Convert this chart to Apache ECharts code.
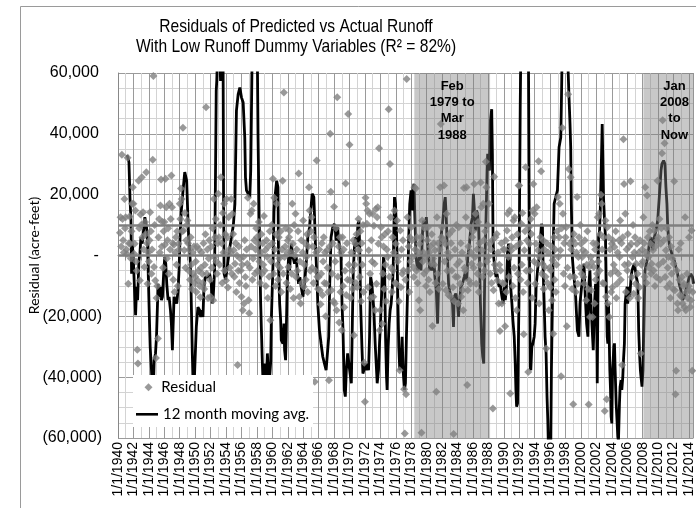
<!DOCTYPE html>
<html><head><meta charset="utf-8">
<script src="https://cdn.jsdelivr.net/npm/echarts@6/dist/echarts.min.js"></script>
<style>html,body{margin:0;padding:0;background:#fff}#c{width:696px;height:508px}</style>
</head><body><div id="c"></div>
<script>
// ---------------- DATA ----------------
const titleLines = ['Residuals of Predicted vs Actual Runoff', 'With Low Runoff Dummy Variables (R\u00B2 = 82%)'];
const yAxisName = 'Residual (acre-feet)';
const xLabelPrefix = '1/1/';
const seriesNames = ['Residual', '12 month moving avg.'];
// monthly residuals (thousand acre-feet), first month = April 1940
const residualStartYear = 1940, residualStartMonth = 4;
const res1940s = [
 7.5,12.6,3,33.1,12,5,1,18.6,9,
 12.6,2,0.5,32.1,-9.3,4,12.8,3.9,-1,8,17,22.4,
 17,0.6,3.9,14.8,-2,-5,-31,-35.5,24.6,9,-8.2,13.5,
 10,25.7,6,14.2,2,-3.8,11,7,27.4,4,-9.3,1,
 -2,5,14.2,8,-6,2,31.5,59,-3.8,10,-8.2,-33.7,
 -14,-10,-27.3,6,12,1,16.4,25,3,11,-4,8,
 11,3.5,25.2,15.9,-1,5,9,-6,17,2,12,26.3,
 15.9,4,-8,3.5,-12,1,6,-3,8,-10,3.9,2,
 17,12,22,18.6,8,42,8.2,1.7,14,-4,5,10,
 11.5,4,-5,2,-8,6,-3,-11,1,-6,3,-9];
const res1950s = [
 -7,-2,-12,3,-8.2,-5,2,-10,-13.7,-4,1,-6,
 -9,4,-11,-3,7,48.7,-6,2,-14,-1,5,-8,
 -13.6,3,-4,9,-14.7,18.6,-0.5,6,12,-2,-6,4,
 20.3,6,-3,10,25.7,4,-9,14,1,17,-5,7,
 -8.2,18.6,6,-10.5,12.6,2,-4,1,18.6,-6,13.7,7.1,
 1.7,-7,-2.7,4,-12,0,-36,-5,3,-9,-1,-4.9,
 -13.6,-3,-18,-0.5,-15.8,5,-7.1,-10,2,-2.7,19,-14.7,
 -19,-4,13.7,3,14.8,-8,-1,17,5,-6,2,9,
 6,-5,3.9,11,-2,-9,1,7,-6,4,-3,13,
 -4.9,1.7,-10,5,-0.5,-14,3,-7,8,-21.3,-2,10];
const res1960s = [
 4,25.2,-6,19,2,-10,7,17,-3,-8,6,-1,
 -4,8,-12,2,24.6,-6,53.6,-0.5,3,9,-9,1,
 4.9,-3.8,6,8.2,-11,1,-6,17,3.9,-14,10,0,
 13.7,-7.1,2,-5,8,27,-13.6,-2,-15.8,5,-9,1,
 11.5,-10.3,-3,4,-8,-0.5,7,-12,3,22.4,14.8,-5,
 8,12.6,-4,3,-9,6,-41.5,-4.9,1,31.2,-7,-11,
 -7.1,2,-11.4,-16,-6,4,-13,-2,6,-9,1,-20,
 -9.3,1.7,-4,-12,-41,3,40,21,-11.4,-6,4,-15,
 16,-15.8,-2,9,-18,52,-7,3,-22,6,-12,1,
 -24.6,6,-10,2,-17,-5,23.7,-13,4,-8,46.5,-3];
const res1970s = [
 36.4,-8.2,-14,1,-5,-11,5,-26.2,-3,3.9,-9,7,
 -10.4,2,12,1.7,-7.1,8,-15,4,-3,10,-12,-35.3,
 -48.1,19,17,10.4,14.8,-10.4,1.7,13.7,-6,-14,5,-2,
 13.7,-13.6,9.8,-2.7,-18,15.3,-9.3,12.6,15.9,3.9,35.3,-24.6,
 -18,9.3,6,-22.4,-6,3,-11,7,-3,-15,2,-0.5,
 8,48.1,-7,30.1,12.6,-4,-12,6,-4.9,1,14.8,-9,
 3.9,-9.3,11.5,-2,-0.5,-15,-37.7,8.2,-10.4,2,-6,5,
 -4.9,-44,-58.5,-8,-45.6,58,12.6,-4.9,3,-12,6,-2,
 9.3,4.9,-0.5,-3.8,-7.1,22.4,2,22,-5,6,-9,1,
 -14.7,3.9,-18,6,-58.3,11.5,-2,1,-6,9,-0.5,-10];
const res1980s = [
 -4.9,5,9.3,-8,1,-12,3,-2.7,7,-23.2,-1,4,
 -3,1.7,-9,-44.8,12.6,-6,4,-11,2,22.4,43.2,6,
 9.3,-9.3,5,23,-2,3.9,-11.4,13.7,-5,1,-13,7,
 -0.5,-13.6,4,-4.9,8.2,-10.4,-58.7,-15,2,-7,10,-3,
 -7.1,-15.8,9.3,-2,-9.3,4,-13.6,1,-11.4,-18,22.2,-4,
 -4.9,12.6,22.4,-42.6,-11.4,3,-8.2,9.3,-9.3,1,-2.7,6,
 8,-4,23.5,-0.5,13.7,-9.3,2,-6,11,-12,4,-3,
 24,15.9,1.7,-7,17,5,-4.9,8,30.8,22.4,-2,10,
 -0.5,17,3.9,-6,2,-9,5,-50.3,-11.4,25.9,-3,6,
 -4.9,7.1,-8.2,1,-15.8,-3,-24.8,-4.9,4,-15.8,-9,2];
const res1990s = [
 -9.3,2,-23.3,4.9,-12,8.2,13.7,-0.5,-7,14.8,-45.4,3,
 1.7,6,-10,11.5,-4,12.6,-14,3,-18,7,-6,23,
 23,4,-8,10.4,-3,14,-12,-25.9,1.7,8,29,-5,
 4.9,-9,-38.3,9.3,3.9,-4.9,12,7.1,-14,14.8,23.5,-2,
 13.7,-9.3,3.9,15.9,-2.7,1.7,31,-15.8,-0.5,6,27.7,-6,
 -2.7,5,-11,2,-3.8,-7,-30.6,4,-9,1,-18,-4,
 -10.4,-4.9,3,-14.7,-1.6,-25.7,6,-8,2,-12,-3,8,
 19.2,-0.5,6,17,1.7,-39.7,9,42,13.7,-6,4,-10,
 6,9.3,-23.3,-4,53,28.4,3.9,-7,25.7,2,-11,5,
 -48.9,7.1,-7.1,3.9,-12,1,19.2,-9.3,-0.5,6,-4,10];
const res2000s = [
 3.9,-6,-0.5,1.7,-7.1,-9.3,5,1.1,-14.7,-3,8,-11,
 -49,-3.8,-20.2,-0.5,-11.4,-2.2,-20.2,4,-3.8,-15.8,2,-8,
 3.9,-6,12.6,-2,13.7,-4.9,7,20,17,2,-9,6,
 -9.3,-51.1,11.5,-13.6,-47.3,9.3,-15.8,6,-20.2,2,-6,-12,
 3.9,-10.4,4.9,-3,2.8,-4.9,8,-14,-9.3,1,-6,5,
 -0.5,11.5,-8,4,-36,6,38.2,23.5,-3,13.7,-12,2,
 -4.9,7.1,-2.7,3,-14,24.4,3.9,-7.1,-0.5,10,-12.6,1,
 6,-9.3,-2.7,3.9,-6,-14,1,-10.4,5,-32.2,-3,2,
 -2,12.6,4,-7,22.4,1,-9,19.7,6,-0.5,-4,8,
 3.9,-6,-2.7,10,1.7,-4.9,8.2,-10,3,-7.1,5,24.6];
const res2010s = [
 6,-3,12,-8,3.9,9,33.6,44.5,-2,5,36.9,-7.1,
 1.7,9,-10.4,-4,-0.5,6,-9.3,-14,3,-6,-1,-11,
 -2.7,24.4,-11.4,-45.6,-37.9,-4.9,-15.8,-18,2,-8,-13,4,
 -13.6,-7.1,-15.8,-10,-9.3,-17,12.6,-18,-12,-6,-14,-10,
 6,-11.4,-16.9,-14.7,8.2,-37.9,-12];
// 12 month moving average: [decimal year, thousand acre-feet]
const movingAvg = [
 [1941.17,33],[1941.3,32],[1941.42,30.6],[1941.55,19.2],[1941.68,11.5],[1941.76,-6],[1941.85,3.9],[1941.98,-0.5],
 [1942.11,-9.3],[1942.28,-19.6],[1942.41,-10.3],[1942.54,-14.7],[1942.71,-1.6],[1942.84,0.6],[1942.97,6],
 [1943.14,3.9],[1943.27,7.1],[1943.48,12.6],[1943.7,9.3],[1943.83,3.9],[1943.91,-4.9],[1944.04,-18],[1944.17,-30],
 [1944.34,-37.7],[1944.47,-45],[1944.6,-42],[1944.69,-34.4],[1944.86,-32.2],[1944.99,-26.7],[1945.12,-15.8],
 [1945.2,-9.3],[1945.33,-13.6],[1945.46,-10.3],[1945.63,-14.7],[1945.76,-13.6],[1945.94,-4.9],[1946.06,-0.5],
 [1946.19,-2.7],[1946.32,-9.3],[1946.49,-14.7],[1946.62,-13.6],[1946.8,-18],[1946.92,-22.4],[1947.05,-31.1],
 [1947.14,-23.5],[1947.27,-13.6],[1947.44,-14.7],[1947.61,-15.8],[1947.78,-11.4],[1947.91,-4.9],[1948.04,6],
 [1948.21,14.8],[1948.43,21.4],[1948.65,27.4],[1948.77,27.9],[1948.9,24.6],[1949.07,11.5],[1949.16,6],
 [1949.29,1.7],[1949.42,-4.9],[1949.5,-15.8],[1949.63,-32.2],[1949.76,-45],[1949.85,-43],[1949.94,-37.7],
 [1950.15,-23.5],[1950.36,-17],[1950.58,-18],[1950.71,-20.2],[1950.88,-18],[1951.01,-20.2],[1951.14,-10.3],
 [1951.31,-7.1],[1951.48,-6.5],[1951.66,-7.1],[1951.87,-6],[1952.09,-9.3],[1952.21,-15.8],[1952.34,-13.6],
 [1952.52,-4.9],[1952.64,27.9],[1952.73,54.1],[1952.8,57.4],[1952.9,66],[1953.16,70],[1953.29,57.4],
 [1953.46,66],[1953.62,64],[1953.68,20],[1953.75,-6],[1953.95,-8],[1954.2,-3],[1954.45,2],[1954.7,6],
 [1954.95,10],[1955.15,17],[1955.35,47.6],[1955.57,53],[1955.79,55.2],[1956,52],[1956.22,50.3],[1956.34,49.8],
 [1956.43,38.8],[1956.52,25.7],[1956.65,21.4],[1956.86,20.3],[1957.08,19.2],[1957.2,27.9],[1957.38,65],
 [1957.72,70],[1958.06,65],[1958.15,38.8],[1958.28,14.8],[1958.49,-15.8],[1958.67,-32.2],[1958.8,-42],
 [1959.01,-35.5],[1959.18,-45],[1959.36,-32.2],[1959.57,-43],[1959.79,-35],[1959.87,-21.3],[1960.09,-2.7],
 [1960.22,14.8],[1960.39,20.3],[1960.56,24.6],[1960.73,22.4],[1960.82,-4.9],[1960.95,-15.8],[1961.08,-21.3],
 [1961.16,-27.8],[1961.38,-29],[1961.51,-22.4],[1961.59,-31.1],[1961.72,-34.4],[1961.81,-24.6],[1961.94,-8.2],
 [1962.11,-0.5],[1962.24,-4.9],[1962.45,3.9],[1962.67,-0.5],[1962.88,-2.7],[1963.1,-0.5],[1963.23,-4.9],
 [1963.4,-9.3],[1963.57,-7.1],[1963.74,-10.3],[1963.96,-13.6],[1964.17,-9.3],[1964.39,-2.7],[1964.6,6],
 [1964.82,9.3],[1964.95,13.7],[1965.16,20.3],[1965.38,19.2],[1965.46,13.7],[1965.55,6],[1965.68,-1.6],
 [1965.81,-9.3],[1965.89,-15.8],[1966.11,-24.6],[1966.32,-29],[1966.54,-33.3],[1966.75,-35.5],[1966.97,-37.7],
 [1967.18,-38.2],[1967.31,-26.7],[1967.44,-9.3],[1967.61,6],[1967.83,9.3],[1968.04,10.4],[1968.17,8.2],
 [1968.3,4.9],[1968.47,9.3],[1968.56,6],[1968.73,2.8],[1968.9,-0.5],[1969.03,-15.8],[1969.16,-24.6],
 [1969.33,-44.2],[1969.46,-46.4],[1969.59,-37.7],[1969.76,-32.2],[1969.9,-35],[1970.02,-37.7],[1970.24,-42],
 [1970.37,-22.4],[1970.49,-4.9],[1970.67,3.9],[1970.8,6],[1970.92,2.8],[1971.1,10.4],[1971.23,11.5],
 [1971.35,-0.5],[1971.44,-15.8],[1971.61,-30],[1971.74,-38.8],[1971.87,-37.7],[1971.96,-35.5],[1972.17,-37.7],
 [1972.3,-35.5],[1972.47,-37.7],[1972.6,-26.7],[1972.73,-7.1],[1972.9,-9.3],[1973.03,-13.6],[1973.16,-18],
 [1973.33,-29],[1973.46,-35.5],[1973.59,-42],[1973.76,-37.7],[1973.89,-29],[1974.02,-22.4],[1974.11,-15.8],
 [1974.28,-7.1],[1974.41,-0.5],[1974.54,-2.7],[1974.67,-26.7],[1974.8,-39.9],[1974.88,-44.2],[1975.01,-30],
 [1975.14,-22.4],[1975.27,-18],[1975.4,-15.8],[1975.53,-11.4],[1975.66,-4.9],[1975.83,19.2],[1975.96,17],
 [1976.09,8.2],[1976.17,-0.5],[1976.26,-13.6],[1976.39,-30],[1976.52,-37.7],[1976.69,-35.5],[1976.82,-26.7],
 [1976.95,-37.7],[1977.12,-44.2],[1977.25,-42],[1977.38,-26.7],[1977.55,-9.3],[1977.68,6],[1977.81,17],
 [1977.98,21.4],[1978.11,14.8],[1978.24,22.4],[1978.37,23.5],[1978.45,14.8],[1978.62,-0.5],[1978.84,-4.9],
 [1979.05,-0.5],[1979.27,-4.9],[1979.48,8.2],[1979.61,11.5],[1979.78,9.3],[1979.96,12.6],[1980.13,3.9],
 [1980.26,-0.5],[1980.39,-4.9],[1980.56,-2.7],[1980.73,-4.9],[1980.9,-0.5],[1981.07,-7.1],[1981.25,-11.4],
 [1981.42,-22.4],[1981.55,-9.3],[1981.68,-0.5],[1981.85,6],[1982.06,10.4],[1982.28,17],[1982.41,19.2],
 [1982.54,12.6],[1982.71,-0.5],[1982.84,-9.3],[1982.97,-11.4],[1983.14,-13.6],[1983.35,-15.8],[1983.48,-23.5],
 [1983.57,-13.6],[1983.78,-12.5],[1984,-15.8],[1984.13,-20.2],[1984.26,-15.8],[1984.43,-10.3],[1984.64,-9.3],
 [1984.86,-7.1],[1985.07,-4.9],[1985.2,-8.2],[1985.33,-0.5],[1985.55,3.9],[1985.76,10.4],[1985.94,12.6],
 [1986.06,20.3],[1986.19,14.8],[1986.32,8.2],[1986.45,14.8],[1986.62,13.7],[1986.75,8.2],[1986.84,-0.5],
 [1986.97,-15.8],[1987.14,-29],[1987.27,-33.3],[1987.4,-35.5],[1987.48,-15.8],[1987.57,0.6],[1987.66,8.2],
 [1987.74,17],[1987.83,27.9],[1987.91,33.4],[1988.04,33.4],[1988.13,27.9],[1988.26,44.3],[1988.43,48.1],
 [1988.52,33.4],[1988.6,6],[1988.69,-0.5],[1988.86,-4.9],[1988.99,-7.1],[1989.12,-6],[1989.29,-9.3],
 [1989.42,-10.3],[1989.55,-9.3],[1989.63,-11.4],[1989.76,-13.6],[1989.89,-15.8],[1990.06,-10.3],[1990.19,-14.7],
 [1990.32,-11.4],[1990.41,-4.9],[1990.49,1.7],[1990.62,3.9],[1990.71,-0.5],[1990.84,-9.3],[1990.92,-11.4],
 [1991.05,-15.8],[1991.18,-21.3],[1991.35,-26.7],[1991.48,-35.5],[1991.57,-44.2],[1991.66,-49.7],[1991.78,-48.6],
 [1991.87,-32.2],[1991.96,-15.8],[1992.04,17],[1992.13,49.8],[1992.22,70],[1992.65,75],[1993.08,70],[1993.2,62],
 [1993.29,17],[1993.42,-36.6],[1993.5,-37.7],[1993.63,-30],[1993.76,-29],[1993.94,-26.7],[1994.06,-22.4],
 [1994.19,-10.3],[1994.37,-4.9],[1994.58,-0.5],[1994.71,3.9],[1994.88,10.4],[1995.01,9.3],[1995.1,-4.9],
 [1995.23,-15.8],[1995.35,-26.7],[1995.48,-32.2],[1995.6,-46.4],[1995.7,-54.1],[1995.8,-65],[1996,-70],
 [1996.09,-62],[1996.17,-37.7],[1996.3,-15.8],[1996.43,6],[1996.52,17],[1996.73,19.2],[1996.95,21.4],
 [1997.16,35.6],[1997.38,38.8],[1997.46,49.8],[1997.55,65],[1997.81,75],[1998.15,70],[1998.32,62],[1998.45,52],
 [1998.58,43.2],[1998.67,35.6],[1998.75,17],[1998.88,-0.5],[1999.01,-4.9],[1999.18,-9.3],[1999.31,-13.6],
 [1999.53,-24.6],[1999.74,-26.7],[1999.87,-15.8],[2000.04,-11.4],[2000.21,-7],[2000.39,-2.7],[2000.56,-13.6],
 [2000.73,-22.4],[2000.9,-26.7],[2001.03,-9.3],[2001.16,-4.9],[2001.33,-18],[2001.46,-24.6],[2001.59,-31.1],
 [2001.76,-15.8],[2001.89,-9.3],[2002.02,-15.8],[2002.11,-42],[2002.19,-15.8],[2002.28,6],[2002.41,8.2],
 [2002.5,14.8],[2002.62,27.9],[2002.75,43.2],[2002.84,43.2],[2002.92,19.2],[2003.05,11.5],[2003.18,6],
 [2003.31,-15.8],[2003.4,-26.7],[2003.48,-29],[2003.57,-15.8],[2003.66,-26.7],[2003.74,-37.7],[2003.83,-44.2],
 [2003.91,-53],[2004,-55.2],[2004.09,-37.7],[2004.17,-34.4],[2004.26,-30],[2004.34,-28.9],[2004.43,-37.7],
 [2004.56,-48.6],[2004.69,-55.2],[2004.77,-59.6],[2004.86,-61],[2004.99,-48.6],[2005.07,-43.1],[2005.2,-41],
 [2005.29,-44.2],[2005.42,-39.9],[2005.51,-34.4],[2005.63,-28.9],[2005.72,-15.8],[2005.85,-12.5],[2005.98,-10.3],
 [2006.06,-15.8],[2006.19,-10.3],[2006.32,-13.6],[2006.49,-7.1],[2006.62,-4.9],[2006.75,-3.8],[2006.92,-2.7],
 [2007.05,-4.9],[2007.18,-7.1],[2007.36,-9.3],[2007.48,-24.6],[2007.61,-33.3],[2007.7,-37.7],[2007.78,-39.9],
 [2007.91,-43.1],[2008.04,-37.7],[2008.21,-15.8],[2008.3,-4.9],[2008.47,-4.9],[2008.65,-0.5],[2008.86,3.9],
 [2009.08,6],[2009.29,1.7],[2009.51,6],[2009.72,8.2],[2009.94,11.5],[2010.15,19.2],[2010.37,27.9],[2010.49,30.1],
 [2010.71,31.2],[2010.88,30.1],[2011.01,22.4],[2011.14,17],[2011.23,10.4],[2011.35,6],[2011.48,2.8],[2011.66,1.7],
 [2011.87,-0.5],[2012.09,-1.6],[2012.3,-3.8],[2012.52,-6],[2012.73,-9.3],[2012.95,-11.4],[2013.16,-14.7],
 [2013.38,-13.6],[2013.59,-11.4],[2013.81,-9.3],[2014.02,-7.1],[2014.24,-6],[2014.45,-7.1],[2014.58,-9.3]];
const shadeFrom = [1978.4, 2008.09];
const shadeTo = [1988.22, 2014.58];
const shadeLabels = ['Feb\n1979 to\nMar\n1988', 'Jan\n2008\nto\nNow'];
const shadeLabelX = ['50%', '62%'];
const refLineValues = [0, 10000];
const xMin = 1940, xMax = 2014.58, xStep = 2;
const yMin = -60000, yMax = 60000, yStep = 20000;

// ---------------- BUILD ----------------
const residuals = [].concat(res1940s, res1950s, res1960s, res1970s, res1980s, res1990s, res2000s, res2010s);
const t0 = residualStartYear + (residualStartMonth - 1) / 12;
const residualData = residuals.map((v, i) => [t0 + i / 12, v * 1000]);
const maData = movingAvg.map(p => [p[0], p[1] * 1000]);
const num = v => Math.abs(v).toLocaleString('en-US');
const yFmt = v => v === 0 ? '-\u2009' : (v < 0 ? '(' + num(v) + ')' : num(v) + '\u2009');
const arial = '"Liberation Sans", Arial, sans-serif';
const calibri = 'Lato, "Open Sans", sans-serif';

const chart = echarts.init(document.getElementById('c'));
chart.setOption({
  animation: false,
  backgroundColor: '#fff',
  grid: { left: 118, right: 0, top: 73, bottom: 70 },
  xAxis: {
    type: 'value', min: xMin, max: xMax, interval: xStep,
    axisLine: { show: true, lineStyle: { color: '#888' } },
    axisTick: { show: true, length: 5, lineStyle: { color: '#888' } },
    minorTick: { show: true, splitNumber: 2, length: 5, lineStyle: { color: '#888' } },
    splitLine: { show: true, lineStyle: { color: '#9a9a9a', width: 1 } },
    minorSplitLine: { show: true, lineStyle: { color: '#d3d3d3', width: 1 } },
    axisLabel: { rotate: 90, margin: 4, fontSize: 14, fontFamily: arial, color: '#000', showMaxLabel: false,
      formatter: v => Number.isInteger(v) ? xLabelPrefix + v : '' }
  },
  yAxis: {
    type: 'value', min: yMin, max: yMax, interval: yStep,
    axisLine: { show: true, lineStyle: { color: '#888' } },
    axisTick: { show: false },
    minorTick: { show: false, splitNumber: 4 },
    splitLine: { show: true, lineStyle: { color: '#9a9a9a', width: 1 } },
    minorSplitLine: { show: true, lineStyle: { color: '#d3d3d3', width: 1 } },
    axisLabel: { margin: 16, fontSize: 16, fontFamily: arial, color: '#000', formatter: yFmt },
    name: yAxisName, nameLocation: 'middle', nameGap: 77, nameMoveOverlap: false,
    nameTextStyle: { fontFamily: calibri, fontSize: 14, color: '#000' }
  },
  legend: [
    { data: [seriesNames[0]], left: 144.5, top: 378.3, padding: 0, itemWidth: 8, itemHeight: 8, selectedMode: false, z: 12,
      formatter: n => ' ' + n, textStyle: { fontFamily: calibri, fontSize: 15, color: '#000', lineHeight: 18 } },
    { data: [{ name: seriesNames[1], icon: 'rect' }], left: 136, top: 405.3, padding: 0, itemWidth: 22, itemHeight: 2.6, selectedMode: false, z: 12,
      textStyle: { fontFamily: calibri, fontSize: 15, color: '#000', lineHeight: 18 } }
  ],
  graphic: [
    { type: 'rect', z: -1, silent: true, shape: { x: 20.5, y: 6.5, width: 1000, height: 1000 }, style: { fill: 'none', stroke: '#9a9a9a', lineWidth: 1 } },
    { type: 'rect', z: 10, silent: true, shape: { x: 133, y: 375, width: 180, height: 52 }, style: { fill: '#fff' } },
    { type: 'text', z: 10, silent: true, x: 296, y: 17, scaleX: 0.82,
      style: { text: titleLines.join('\n'), fill: '#000', font: '19px "Liberation Sans", Arial, sans-serif', lineHeight: 20, align: 'center', verticalAlign: 'top' } }
  ],
  series: [
    { name: seriesNames[1], type: 'line', data: maData, z: 2, clip: true, symbol: 'none', showSymbol: false,
      lineStyle: { color: '#000', width: 2.8 }, itemStyle: { color: '#000' } },
    { name: 'shade', type: 'line', data: [], z: 3,
      markArea: { z: 3, silent: true,
        itemStyle: { color: 'rgba(128,128,128,0.43)', borderWidth: 0 },
        label: { show: true, align: 'center', verticalAlign: 'top', fontFamily: arial, fontWeight: 'bold', fontSize: 13, lineHeight: 16.3, color: '#000' },
        data: shadeFrom.map((f, i) => [ { xAxis: f, name: shadeLabels[i], label: { position: [shadeLabelX[i], 5] } }, { xAxis: shadeTo[i] } ]) },
      markLine: { z: 3.5, silent: true, symbol: 'none', label: { show: false },
        lineStyle: { color: '#7f7f7f', width: 2.5, type: 'solid' },
        data: refLineValues.map(v => ({ yAxis: v })) } },
    { name: seriesNames[0], type: 'scatter', data: residualData, z: 4, symbol: 'diamond', symbolSize: 8,
      itemStyle: { color: '#808080' } }
  ]
});
</script></body></html>
